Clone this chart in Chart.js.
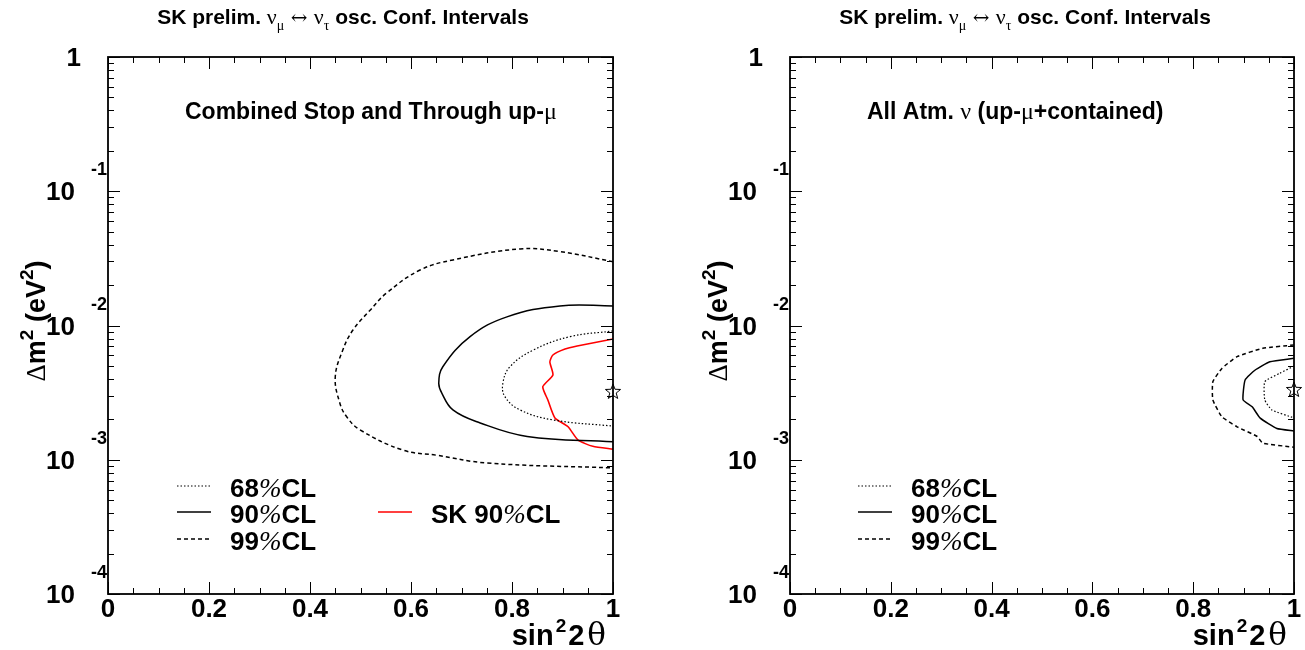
<!DOCTYPE html>
<html>
<head>
<meta charset="utf-8">
<title>SK prelim. oscillation confidence intervals</title>
<script src="https://cdn.jsdelivr.net/npm/chart.js"></script>
<style>
  html, body { margin: 0; padding: 0; background: #fff; }
  .panel { position: absolute; top: 0; }
</style>
</head>
<body>
<canvas id="upmuChart" class="panel" width="652" height="650" style="left:0"></canvas>
<canvas id="allChart" class="panel" width="653" height="650" style="left:652px"></canvas>
<script>
// Axis ticks
const sin2Labels = ['0', '0.2', '0.4', '0.6', '0.8', '1'];
const sin2LabelValues = [0, 0.2, 0.4, 0.6, 0.8, 1];
const dm2Exponents = [-4, -3, -2, -1];

// Left panel: combined stop + through up-mu
const upmu68X = [1.0, 0.915, 0.842, 0.796, 0.782, 0.786, 0.816, 0.881, 1.0];
const upmu68Y = [0.00910, 0.00826, 0.00656, 0.00493, 0.00373, 0.00295, 0.00235, 0.00198, 0.00178];
const upmu90X = [1.0, 0.895, 0.790, 0.717, 0.663, 0.655, 0.661, 0.683, 0.737, 0.830, 1.0];
const upmu90Y = [0.0140, 0.0140, 0.0116, 0.00826, 0.00493, 0.00373, 0.00314, 0.00235, 0.00188, 0.00149, 0.00136];
const upmu99X = [1.0, 0.895, 0.816, 0.683, 0.618, 0.552, 0.519, 0.485, 0.465, 0.450, 0.459, 0.473, 0.499, 0.584, 0.651, 0.750, 1.0];
const upmu99Y = [0.0299, 0.0355, 0.0372, 0.0308, 0.0259, 0.0175, 0.0130, 0.00925, 0.00657, 0.00413, 0.00265, 0.00208, 0.00167, 0.00118, 0.00108, 0.000946, 0.000869];
const sk90X = [1.0, 0.929, 0.905, 0.881, 0.875, 0.881, 0.861, 0.871, 0.885, 0.911, 0.931, 0.960, 1.0];
const sk90Y = [0.00793, 0.00703, 0.00668, 0.00603, 0.00535, 0.00428, 0.00350, 0.00279, 0.00205, 0.00176, 0.00140, 0.00126, 0.00120];
const upmuBestX = [1.0];
const upmuBestY = [0.0032];

// Right panel: all atmospheric neutrinos
const all68X = [1.0, 0.972, 0.942, 0.942, 0.956, 1.0];
const all68Y = [0.00499, 0.00441, 0.00381, 0.00279, 0.00235, 0.00205];
const all90X = [1.0, 0.952, 0.923, 0.903, 0.899, 0.917, 0.933, 0.966, 1.0];
const all90Y = [0.00570, 0.00537, 0.00466, 0.00393, 0.00279, 0.00248, 0.00204, 0.00171, 0.00164];
const all99X = [1.0, 0.938, 0.887, 0.857, 0.839, 0.839, 0.857, 0.887, 0.927, 0.938, 1.0];
const all99Y = [0.00716, 0.00676, 0.00586, 0.00479, 0.00381, 0.00279, 0.00209, 0.00176, 0.00149, 0.00133, 0.00124];
const allBestX = [1.0];
const allBestY = [0.00331];

const SANS = '"Liberation Sans", Arial, sans-serif';
const SERIF = '"Liberation Serif", "DejaVu Serif", serif';

const STYLE68 = { color: '#000', width: 1.2, dash: [1.5, 2] };
const STYLE90 = { color: '#000', width: 1.5, dash: [] };
const STYLE99 = { color: '#000', width: 1.5, dash: [4, 3] };
const STYLESK = { color: '#ff0000', width: 1.6, dash: [] };

function zip(xs, ys) {
    return xs.map((x, i) => ({ x: x, y: ys[i] }));
}

function starImage(r) {
    const c = document.createElement('canvas');
    c.width = c.height = 2 * r + 4;
    const g = c.getContext('2d');
    g.beginPath();
    for (let i = 0; i < 10; i++) {
        const a = -Math.PI / 2 + i * Math.PI / 5;
        const rad = i % 2 ? r * 0.42 : r;
        const px = r + 2 + rad * Math.cos(a), py = r + 2 + rad * Math.sin(a);
        if (i === 0) g.moveTo(px, py); else g.lineTo(px, py);
    }
    g.closePath();
    g.lineWidth = 1;
    g.strokeStyle = '#000';
    g.stroke();
    return c;
}

function richText(ctx, parts, x, y, align) {
    let w = 0;
    parts.forEach(p => { ctx.font = p.font; p.w = ctx.measureText(p.text).width + (p.gap || 0); w += p.w; });
    let cx = align === 'center' ? x - w / 2 : align === 'right' ? x - w : x;
    ctx.textAlign = 'left';
    ctx.textBaseline = 'alphabetic';
    parts.forEach(p => {
        ctx.font = p.font;
        ctx.fillText(p.text, cx, y + (p.dy || 0));
        cx += p.w;
    });
}

function lineSet(label, xs, ys, st, tension) {
    return {
        label: label,
        data: zip(xs, ys),
        showLine: true,
        borderColor: st.color,
        borderWidth: st.width,
        borderDash: st.dash,
        pointRadius: 0,
        tension: tension,
        fill: false
    };
}

// Frame, inward ticks, labels, titles and legend (ROOT style)
const framePlugin = {
    id: 'frame',
    afterDatasetsDraw(chart, args, opts) {
        const ctx = chart.ctx;
        const a = chart.chartArea;
        const xs = chart.scales.x, ys = chart.scales.y;
        ctx.save();
        ctx.fillStyle = '#000';
        ctx.strokeStyle = '#000';

        // ticks
        ctx.lineWidth = 1;
        ctx.setLineDash([]);
        ctx.beginPath();
        for (let i = 0; i <= 20; i++) {
            const v = i * 0.05;
            const px = Math.round(xs.getPixelForValue(v)) + 0.5;
            const len = i % 4 === 0 ? 12 : 6;
            ctx.moveTo(px, a.bottom); ctx.lineTo(px, a.bottom - len);
            ctx.moveTo(px, a.top); ctx.lineTo(px, a.top + len);
        }
        for (let e = -4; e <= 0; e++) {
            for (let k = 1; k <= 9; k++) {
                if (e === 0 && k > 1) break;
                const py = Math.round(ys.getPixelForValue(k * Math.pow(10, e))) + 0.5;
                const len = k === 1 ? 12 : 6;
                ctx.moveTo(a.left, py); ctx.lineTo(a.left + len, py);
                ctx.moveTo(a.right, py); ctx.lineTo(a.right - len, py);
            }
        }
        ctx.stroke();

        // frame
        ctx.lineWidth = 1.8;
        ctx.strokeRect(a.left, a.top, a.right - a.left, a.bottom - a.top);

        const B26 = 'bold 26px ' + SANS;
        const B18 = 'bold 18px ' + SANS;

        // x tick labels
        sin2LabelValues.forEach((v, i) => {
            richText(ctx, [{ text: sin2Labels[i], font: B26 }], xs.getPixelForValue(v), a.bottom + 23, 'center');
        });
        // y tick labels
        richText(ctx, [{ text: '1', font: B26 }], a.left - 27, a.top + 9, 'right');
        dm2Exponents.forEach(e => {
            const py = ys.getPixelForValue(Math.pow(10, e));
            richText(ctx, [{ text: '10', font: B26 }], a.left - 33, py + 9, 'right');
            richText(ctx, [{ text: String(e), font: B18 }], a.left - 1, py - 16, 'right');
        });

        // axis titles
        richText(ctx, [
            { text: 'sin', font: 'bold 29px ' + SANS, gap: 2 },
            { text: '2', font: 'bold 19px ' + SANS, dy: -13, gap: 2 },
            { text: '2', font: 'bold 29px ' + SANS, gap: 3 },
            { text: 'θ', font: '31px "DejaVu Serif", serif' }
        ], a.right - 7, a.bottom + 51, 'right');

        ctx.save();
        ctx.translate(a.left - 63, 321);
        ctx.rotate(-Math.PI / 2);
        richText(ctx, [
            { text: 'Δ', font: '27px ' + SERIF },
            { text: 'm', font: 'bold 27px ' + SANS },
            { text: '2', font: 'bold 19px ' + SANS, dy: -12 },
            { text: ' (eV', font: 'bold 27px ' + SANS },
            { text: '2', font: 'bold 19px ' + SANS, dy: -12 },
            { text: ')', font: 'bold 27px ' + SANS }
        ], 0, 0, 'center');
        ctx.restore();

        // title
        const T = 'bold 21px ' + SANS, TS = '22px ' + SERIF, TSub = '14px ' + SERIF;
        richText(ctx, [
            { text: 'SK prelim. ', font: T },
            { text: 'ν', font: TS },
            { text: 'μ', font: TSub, dy: 6 },
            { text: ' ↔ ', font: '20px "DejaVu Serif", serif' },
            { text: 'ν', font: TS },
            { text: 'τ', font: TSub, dy: 6 },
            { text: ' osc. Conf. Intervals', font: T }
        ], a.left + 235, 24, 'center');

        // annotation
        const AB = 'bold 23px ' + SANS, AS = '24px ' + SERIF;
        const annParts = opts.annotation.map(p => ({ text: p[0], font: p[1] ? AS : AB }));
        richText(ctx, annParts, a.left + 77, 119, 'left');

        // legend
        opts.legend.forEach(item => {
            const st = item.style;
            ctx.strokeStyle = st.color;
            ctx.lineWidth = st.width;
            ctx.setLineDash(st.dash);
            ctx.beginPath();
            ctx.moveTo(a.left + item.dx, item.y);
            ctx.lineTo(a.left + item.dx + 34, item.y);
            ctx.stroke();
            ctx.setLineDash([]);
            ctx.fillStyle = '#000';
            richText(ctx, [
                { text: item.pre, font: B26 },
                { text: '%', font: 'italic 27px ' + SERIF },
                { text: 'CL', font: B26 }
            ], a.left + item.dx + 53, item.y + 11, 'left');
        });
        ctx.restore();
    }
};

function makeChart(id, sets, best, pad, annotation, legend) {
    const datasets = sets.slice();
    datasets.push({
        label: 'best fit',
        data: best,
        pointStyle: starImage(8),
        pointRadius: 8,
        showLine: false,
        clip: false
    });
    return new Chart(document.getElementById(id), {
        type: 'scatter',
        data: { datasets: datasets },
        options: {
            responsive: false,
            animation: false,
            devicePixelRatio: 1,
            layout: { padding: pad },
            scales: {
                x: { type: 'linear', min: 0, max: 1, display: false },
                y: { type: 'logarithmic', min: 0.0001, max: 1, display: false }
            },
            plugins: {
                legend: { display: false },
                tooltip: { enabled: false },
                frame: { annotation: annotation, legend: legend }
            }
        },
        plugins: [framePlugin]
    });
}

makeChart('upmuChart', [
    lineSet('99%CL', upmu99X, upmu99Y, STYLE99, 0.4),
    lineSet('90%CL', upmu90X, upmu90Y, STYLE90, 0.4),
    lineSet('68%CL', upmu68X, upmu68Y, STYLE68, 0.4),
    lineSet('SK 90%CL', sk90X, sk90Y, STYLESK, 0.2)
], zip(upmuBestX, upmuBestY), { left: 108, right: 39, top: 57, bottom: 56 },
    [['Combined Stop and Through up-', false], ['μ', true]],
    [
        { pre: '68', style: STYLE68, dx: 69, y: 486 },
        { pre: '90', style: STYLE90, dx: 69, y: 512 },
        { pre: '99', style: STYLE99, dx: 69, y: 539 },
        { pre: 'SK 90', style: STYLESK, dx: 270, y: 512 }
    ]);

makeChart('allChart', [
    lineSet('99%CL', all99X, all99Y, STYLE99, 0.15),
    lineSet('90%CL', all90X, all90Y, STYLE90, 0.15),
    lineSet('68%CL', all68X, all68Y, STYLE68, 0.15)
], zip(allBestX, allBestY), { left: 138, right: 11, top: 57, bottom: 56 },
    [['All Atm. ', false], ['ν', true], [' (up-', false], ['μ', true], ['+contained)', false]],
    [
        { pre: '68', style: STYLE68, dx: 68, y: 486 },
        { pre: '90', style: STYLE90, dx: 68, y: 512 },
        { pre: '99', style: STYLE99, dx: 68, y: 539 }
    ]);
</script>
</body>
</html>
